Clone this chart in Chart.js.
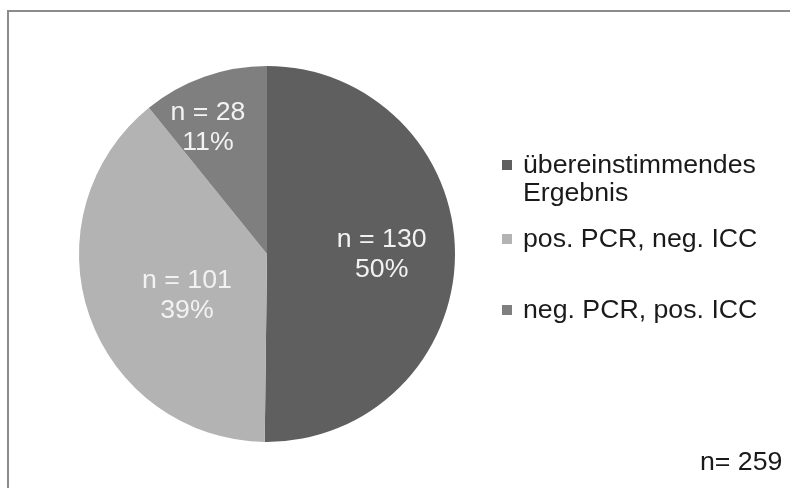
<!DOCTYPE html>
<html>
<head>
<meta charset="utf-8">
<script src="https://cdn.jsdelivr.net/npm/chart.js@4/dist/chart.umd.min.js"></script>
<style>
    html, body { margin: 0; padding: 0; background: #ffffff; }
    canvas { display: block; }
</style>
</head>
<body>
<canvas id="pieChart" width="790" height="488"></canvas>
<script>
"use strict";

// data
var categories = [
    ['übereinstimmendes', 'Ergebnis'],
    ['pos. PCR, neg. ICC'],
    ['neg. PCR, pos. ICC']
];
var counts = [130, 101, 28];
var percentLabels = ['50%', '39%', '11%'];
var totalLabel = 'n= 259';

var sliceColors = ['#5f5f5f', '#b3b3b3', '#7f7f7f'];
var font = '26.7px "Liberation Sans", Arial, sans-serif';

// where inside each slice its label sits (fraction of the slice angle, fraction of the radius)
var labelPlacement = [
    { t: 0.5, f: 0.61 },
    { t: 0.44, f: 0.48 },
    { t: 0.355, f: 0.74 }
];

// baseline of the first legend line for each entry
var legendBaselines = [173, 247, 318];

var framePlugin = {
    id: 'frame',
    beforeDraw: function (chart) {
        var ctx = chart.ctx;
        ctx.save();
        ctx.strokeStyle = '#8c8c8c';
        ctx.lineWidth = 2;
        ctx.beginPath();
        ctx.moveTo(790, 11);
        ctx.lineTo(8, 11);
        ctx.lineTo(8, 488);
        ctx.stroke();
        ctx.restore();
    }
};

var sliceLabelPlugin = {
    id: 'sliceLabels',
    afterDatasetsDraw: function (chart) {
        var ctx = chart.ctx;
        var meta = chart.getDatasetMeta(0);
        ctx.save();
        ctx.font = font;
        ctx.fillStyle = '#f2f2f2';
        ctx.textAlign = 'center';
        ctx.textBaseline = 'middle';
        meta.data.forEach(function (arc, i) {
            var p = arc.getProps(['x', 'y', 'startAngle', 'endAngle', 'outerRadius'], true);
            var place = labelPlacement[i];
            var a = p.startAngle + (p.endAngle - p.startAngle) * place.t;
            var cx = p.x + Math.cos(a) * p.outerRadius * place.f;
            var cy = p.y + Math.sin(a) * p.outerRadius * place.f;
            ctx.fillText('n = ' + counts[i], cx, cy - 15);
            ctx.fillText(percentLabels[i], cx, cy + 15);
        });
        ctx.restore();
    }
};

var legendPlugin = {
    id: 'sideLegend',
    afterDraw: function (chart) {
        var ctx = chart.ctx;
        ctx.save();
        ctx.font = font;
        ctx.textAlign = 'left';
        ctx.textBaseline = 'alphabetic';
        categories.forEach(function (lines, i) {
            var y = legendBaselines[i];
            ctx.fillStyle = sliceColors[i];
            ctx.fillRect(502, y - 13, 10, 10);
            ctx.fillStyle = '#1a1a1a';
            lines.forEach(function (line, j) {
                ctx.fillText(line, 523, y + j * 28);
            });
        });
        ctx.fillText(totalLabel, 700, 470);
        ctx.restore();
    }
};

var pieChart = new Chart(document.getElementById('pieChart'), {
    type: 'pie',
    data: {
        labels: categories.map(function (l) { return l.join(' '); }),
        datasets: [{
            data: counts,
            backgroundColor: sliceColors,
            borderWidth: 0,
            hoverOffset: 0
        }]
    },
    options: {
        responsive: false,
        animation: false,
        devicePixelRatio: 1,
        layout: { padding: { left: 79, top: 66, right: 335, bottom: 46 } },
        plugins: {
            legend: { display: false },
            tooltip: { enabled: false }
        }
    },
    plugins: [framePlugin, sliceLabelPlugin, legendPlugin]
});
</script>
</body>
</html>
